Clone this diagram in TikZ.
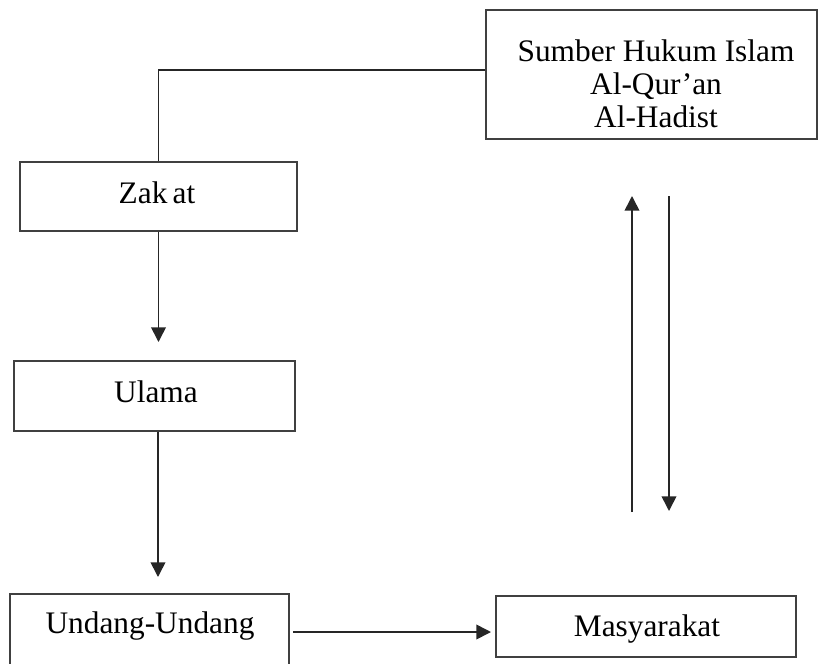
\documentclass[tikz,border=0pt]{standalone}
\usepackage{fontspec}
\setmainfont{Liberation Serif}
\usetikzlibrary{arrows.meta}
\begin{document}
\begin{tikzpicture}[x=0.75pt,y=-0.75pt,
  box/.style={draw=black!75,line width=1.1pt,rectangle,inner sep=0pt},
  txt/.style={font=\fontsize{23.5}{24.75}\selectfont,align=center,inner sep=0pt},
  conn/.style={draw=black!85,line width=1.2pt},
  arr/.style={conn,-{Triangle[length=11pt,width=11pt]}}]
\useasboundingbox (0,0) rectangle (818,664);
\clip (0,0) rectangle (818,664);
\node[box,minimum width=248.25pt,minimum height=96.75pt] (sumber) at (651.5,74.5) {};
\node[txt] (sumbert) at (656,84) {Sumber Hukum Islam\\Al-Qur’an\\Al-Hadist};
\node[box,minimum width=207.75pt,minimum height=51.75pt] (zakat) at (158.5,196.5) {};
\node[txt] (zakatt) at (157,193) {Zak\,at};
\node[box,minimum width=281pt,minimum height=52.5pt,minimum width=210.75pt] (ulama) at (154.5,396) {};
\node[txt] (ulamat) at (156,392) {Ulama};
\node[box,minimum width=209pt,minimum height=60pt] (undang) at (149.5,634) {};
\node[txt] (undangt) at (150,626) {Undang-Undang};
\node[box,minimum width=225pt,minimum height=45.75pt] (masy) at (646,626.5) {};
\node[txt] (masyt) at (647,629) {Masyarakat};
\coordinate (a1) at (158,342);
\coordinate (a2) at (158,577);
\coordinate (u1) at (632,512);
\coordinate (u2) at (632,196);
\coordinate (d1) at (669,196);
\coordinate (d2) at (669,511);
\coordinate (h1) at (293,632);
\coordinate (h2) at (491,632);
\draw[conn] ([yshift=3.4pt]sumber.west) -| (zakat.north);
\draw[arr] (zakat.south) -- (zakat.south |- a1);
\draw[arr] (ulama.south -| a2) -- (a2);
\draw[arr] (u1) -- (u2);
\draw[arr] (d1) -- (d2);
\draw[arr] (h1) -- (h2);
\end{tikzpicture}
\end{document}
